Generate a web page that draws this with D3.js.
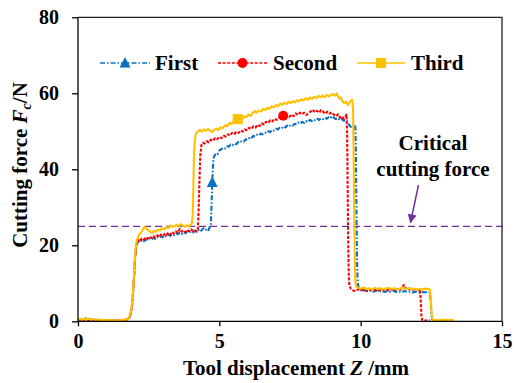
<!DOCTYPE html>
<html>
<head>
<meta charset="utf-8">
<script src="https://cdn.jsdelivr.net/npm/d3@7"></script>
<style>
  html, body { margin: 0; padding: 0; background: #fff; }
  svg { display: block; }
  text { font-family: "Liberation Serif", "Times New Roman", serif; font-weight: bold; fill: #000; }
</style>
</head>
<body>
<svg id="chart" width="514" height="383"></svg>
<script>
// Tool displacement Z (mm) and cutting force Fc (N) for the three cutting passes
const firstZ = [0.0,0.1,0.2,0.3,0.4,0.5,0.7,0.9,1.1,1.3,1.5,1.65,1.75,1.82,1.88,1.93,1.98,2.02,2.06,2.1,2.15,2.2,2.27,2.33,2.4,2.47,2.53,2.6,2.67,2.73,2.8,2.87,2.93,3.0,3.07,3.13,3.2,3.27,3.33,3.4,3.47,3.53,3.6,3.67,3.73,3.8,3.87,3.93,4.0,4.07,4.13,4.2,4.27,4.33,4.4,4.47,4.53,4.6,4.66,4.7,4.72,4.74,4.75,4.77,4.79,4.83,4.88,4.94,5.0,5.07,5.13,5.2,5.27,5.33,5.4,5.47,5.53,5.6,5.67,5.73,5.8,5.87,5.93,6.0,6.07,6.13,6.2,6.27,6.33,6.4,6.47,6.53,6.6,6.67,6.73,6.8,6.87,6.93,7.0,7.07,7.13,7.2,7.27,7.33,7.4,7.47,7.53,7.6,7.67,7.73,7.8,7.87,7.93,8.0,8.07,8.13,8.2,8.27,8.33,8.4,8.47,8.53,8.6,8.67,8.73,8.8,8.87,8.93,8.98,9.05,9.12,9.2,9.27,9.33,9.4,9.47,9.53,9.58,9.63,9.68,9.73,9.78,9.81,9.83,9.85,9.87,9.89,9.92,9.97,10.05,10.15,10.25,10.35,10.45,10.55,10.65,10.75,10.85,10.95,11.05,11.15,11.25,11.35,11.45,11.55,11.65,11.75,11.85,11.95,12.05,12.15,12.25,12.35,12.45,12.48,12.5,12.53,12.6,12.8];
const firstF = [0.4,0.5,0.6,0.9,0.6,0.5,0.4,0.3,0.2,0.3,0.2,0.3,0.5,1.0,2.4,5.2,11,16.5,19.6,20.6,21.0,20.8,21.4,21.1,21.6,21.3,21.8,21.5,22.0,21.7,22.2,21.9,22.4,22.1,22.6,22.3,22.8,22.5,23.0,22.7,23.2,22.9,23.4,23.0,23.5,23.2,23.6,23.3,23.7,23.4,23.8,23.5,24.0,23.6,24.2,24.6,24.1,23.7,24.8,25.2,30,34,36.5,40,42.8,43.6,44.2,44.0,44.9,45.3,45.7,45.5,46.1,45.9,46.5,46.3,46.8,46.6,47.2,47.0,47.5,47.3,47.9,47.7,48.3,48.1,48.8,48.6,49.1,48.9,49.4,49.2,49.7,49.5,50.0,49.8,50.4,50.2,50.7,50.5,50.9,50.7,51.3,51.0,51.5,51.2,51.7,51.5,52.0,51.8,52.3,52.0,52.5,52.2,52.7,52.4,53.0,52.7,53.1,52.8,53.3,53.0,53.5,53.2,53.6,53.3,53.7,53.4,54.0,53.6,53.2,53.5,52.9,53.2,52.8,53.1,52.5,51.8,51.3,51.0,51.5,51.8,51.2,45,30,17,11,9.0,8.4,8.0,8.2,7.9,8.1,7.8,8.1,7.8,8.0,7.7,8.0,7.8,8.1,7.7,7.9,7.6,8.0,7.7,7.9,7.6,7.8,7.5,7.8,7.6,7.8,7.6,5,2,0.5,0.3,0.2];

const secondZ = [0.0,0.1,0.2,0.35,0.5,0.7,0.9,1.1,1.3,1.5,1.65,1.75,1.82,1.88,1.93,1.98,2.02,2.06,2.1,2.15,2.2,2.27,2.33,2.4,2.47,2.53,2.6,2.67,2.73,2.8,2.87,2.93,3.0,3.07,3.13,3.2,3.27,3.33,3.4,3.47,3.53,3.6,3.67,3.73,3.8,3.87,3.93,4.0,4.07,4.13,4.2,4.24,4.27,4.3,4.33,4.37,4.42,4.48,4.55,4.62,4.7,4.77,4.85,4.92,5.0,5.08,5.15,5.23,5.3,5.38,5.45,5.53,5.6,5.68,5.75,5.83,5.9,5.98,6.05,6.13,6.2,6.28,6.35,6.43,6.5,6.58,6.65,6.73,6.8,6.88,6.95,7.03,7.1,7.18,7.26,7.33,7.4,7.48,7.55,7.63,7.7,7.78,7.85,7.93,8.0,8.08,8.15,8.23,8.3,8.38,8.45,8.53,8.6,8.68,8.75,8.83,8.9,8.98,9.05,9.13,9.2,9.27,9.33,9.4,9.46,9.5,9.52,9.54,9.56,9.58,9.6,9.65,9.7,9.8,9.9,10.0,10.1,10.2,10.3,10.4,10.5,10.6,10.7,10.8,10.9,11.0,11.1,11.2,11.3,11.4,11.48,11.53,11.58,11.65,11.75,11.85,11.95,12.05,12.1,12.13,12.15,12.18,12.3,12.45];
const secondF = [0.3,0.5,0.3,0.4,0.3,0.3,0.2,0.3,0.2,0.3,0.4,0.5,1.0,2.5,5.5,11.5,17,20.0,21.0,21.6,21.3,21.9,21.5,22.1,21.8,22.3,21.9,22.4,22.0,22.6,22.2,22.8,22.4,23.0,22.7,23.3,22.8,23.5,23.1,23.7,23.3,24.3,23.6,23.9,23.5,24.1,23.7,24.2,23.8,24.0,23.6,24.0,30,38,44,46.5,47.0,46.8,47.4,47.1,47.8,47.5,48.2,47.9,48.5,48.2,48.8,48.6,49.2,48.9,49.6,49.3,49.9,49.6,50.2,49.9,50.5,50.3,50.9,50.6,51.3,51.0,51.7,51.4,52.1,51.8,52.5,52.2,52.9,52.6,53.3,53.0,53.6,53.4,54.1,53.7,54.2,53.8,54.4,54.0,54.7,54.3,54.9,54.5,54.9,54.3,54.8,55.2,55.7,55.0,55.4,54.9,55.6,55.1,54.6,55.2,54.7,55.0,54.4,54.0,54.5,53.6,53.9,53.3,53.8,54.4,50,35,20,12,9.3,8.6,8.2,8.0,8.4,8.1,8.3,8.0,8.4,8.1,8.3,8.0,8.4,8.2,8.5,8.1,8.4,8.2,8.5,8.3,9.0,9.6,8.8,8.4,8.6,8.3,8.5,8.2,8.4,5,1.5,0.3,0.2,0.3];

const thirdZ = [0.0,0.1,0.2,0.3,0.4,0.5,0.7,0.9,1.1,1.3,1.5,1.65,1.75,1.82,1.88,1.93,1.98,2.02,2.06,2.1,2.15,2.2,2.27,2.33,2.38,2.43,2.5,2.56,2.62,2.68,2.75,2.82,2.9,2.97,3.05,3.12,3.2,3.27,3.35,3.42,3.5,3.57,3.63,3.7,3.77,3.85,3.92,3.98,4.03,4.06,4.08,4.1,4.13,4.17,4.22,4.3,4.38,4.45,4.52,4.6,4.68,4.75,4.82,4.9,4.97,5.05,5.12,5.2,5.28,5.35,5.42,5.5,5.58,5.65,5.72,5.8,5.88,5.95,6.03,6.1,6.18,6.25,6.33,6.4,6.48,6.55,6.63,6.7,6.78,6.85,6.93,7.0,7.08,7.15,7.23,7.3,7.38,7.45,7.53,7.6,7.68,7.75,7.83,7.9,7.98,8.05,8.13,8.2,8.28,8.35,8.43,8.5,8.58,8.65,8.73,8.8,8.88,8.95,9.03,9.1,9.15,9.2,9.25,9.3,9.35,9.42,9.48,9.55,9.6,9.65,9.7,9.73,9.75,9.77,9.79,9.81,9.84,9.9,10.0,10.1,10.2,10.3,10.4,10.5,10.6,10.7,10.8,10.9,11.0,11.1,11.2,11.3,11.4,11.5,11.6,11.7,11.8,11.9,12.0,12.1,12.2,12.3,12.4,12.45,12.48,12.5,12.52,12.56,12.7,12.9,13.1,13.3];
const thirdF = [0.5,0.6,0.5,0.7,0.6,0.5,0.4,0.3,0.3,0.2,0.3,0.4,0.6,1.2,2.8,6.0,12.0,17.5,20.5,21.8,22.6,23.1,23.8,24.6,24.9,24.2,23.9,23.5,23.2,23.8,23.6,24.1,23.9,24.5,24.2,24.8,24.5,25.2,24.9,25.1,25.4,25.0,25.6,25.2,24.9,25.3,24.9,25.4,25.8,28,35,43,47.5,49.3,49.8,50.3,49.9,50.5,50.1,50.6,50.2,49.8,50.4,50.7,50.3,51.1,50.8,51.6,51.3,52.2,51.9,52.6,52.9,53.2,53.5,53.1,53.9,53.7,54.4,54.1,54.8,55.3,54.9,55.5,55.2,55.9,55.6,56.2,55.9,56.6,56.3,56.9,56.6,57.3,57.0,57.5,57.2,57.8,57.4,57.9,57.6,58.2,57.9,58.5,58.1,58.7,58.3,58.9,58.5,59.1,58.7,59.3,58.9,59.4,59.0,59.6,59.2,59.5,59.8,59.4,60.0,59.2,58.6,58.9,57.9,57.4,57.8,56.9,57.5,58.0,58.3,56,45,30,18,11,9.2,8.8,8.6,8.9,8.5,8.7,8.4,8.8,8.5,8.7,8.4,8.6,8.8,8.5,8.7,8.4,8.6,8.9,8.5,8.7,8.4,8.6,8.3,8.5,8.4,8.6,8.5,8.3,6,3,1,0.4,0.3,0.4,0.3,0.3];

// Displacement at which each pass carries its marker symbol
const markerZ = [4.75, 7.26, 5.65];

const seriesNames = ["First", "Second", "Third"];
const criticalForce = 25;

const xTicks = [0, 5, 10, 15];
const yTicks = [0, 20, 40, 60, 80];

const svg = d3.select("#chart");
const x = d3.scaleLinear().domain([0, 15]).range([78, 502]);
const y = d3.scaleLinear().domain([0, 80]).range([321.3, 17.3]);

const styles = [
  { color: "#0A70C2", dash: "5,2,1.5,2", symbol: "triangle" },
  { color: "#FF0000", dash: "3,1.6", symbol: "circle" },
  { color: "#FFC000", dash: null, symbol: "square" }
];

const series = [
  { name: seriesNames[0], z: firstZ, f: firstF, mz: markerZ[0], style: styles[0] },
  { name: seriesNames[1], z: secondZ, f: secondF, mz: markerZ[1], style: styles[1] },
  { name: seriesNames[2], z: thirdZ, f: thirdF, mz: markerZ[2], style: styles[2] }
];

function symbolPath(type, cx, cy) {
  if (type === "triangle") return `M${cx},${cy - 6}L${cx + 5.5},${cy + 4.5}L${cx - 5.5},${cy + 4.5}Z`;
  if (type === "square") return `M${cx - 5},${cy - 5}h10v10h-10Z`;
  return `M${cx - 5},${cy}a5,5 0 1,0 10,0a5,5 0 1,0 -10,0Z`;
}

// Critical cutting force reference line
svg.append("line")
  .attr("x1", x(0)).attr("x2", 504)
  .attr("y1", y(criticalForce)).attr("y2", y(criticalForce))
  .attr("stroke", "#7030A0").attr("stroke-width", 1.3)
  .attr("stroke-dasharray", "7,4");

// Force curves
const line = d3.line().x(d => x(d[0])).y(d => y(d[1]));
series.forEach(s => {
  const pts = s.z.map((z, i) => [z, s.f[i]]);
  svg.append("path")
    .attr("d", line(pts))
    .attr("fill", "none")
    .attr("stroke", s.style.color)
    .attr("stroke-width", 2.1)
    .attr("stroke-linejoin", "round")
    .attr("stroke-dasharray", s.style.dash);
  const mi = s.z.indexOf(s.mz);
  svg.append("path")
    .attr("d", symbolPath(s.style.symbol, x(s.z[mi]), y(s.f[mi])))
    .attr("fill", s.style.color);
});

// Axes
const xAxis = svg.append("g")
  .attr("transform", `translate(0,${y(0)})`)
  .call(d3.axisBottom(x).tickValues(xTicks).tickSize(5).tickPadding(8).tickFormat(d3.format("d")));
const yAxis = svg.append("g")
  .attr("transform", `translate(${x(0)},0)`)
  .call(d3.axisLeft(y).tickValues(yTicks).tickSize(6).tickPadding(13).tickFormat(d3.format("d")));
[xAxis, yAxis].forEach(g => {
  g.select(".domain").attr("stroke", "#000").attr("stroke-width", 1.3);
  g.selectAll(".tick line").attr("stroke", "#000").attr("stroke-width", 1.3);
  g.selectAll(".tick text")
    .attr("font-family", "Liberation Serif, Times New Roman, serif")
    .attr("font-weight", "bold").attr("font-size", 20).attr("fill", "#000");
});
xAxis.select(".domain").attr("d", `M${x(0)},0H${x(15)}`);
yAxis.select(".domain").attr("d", `M0,${y(0)}V${y(80)}`);

// Frame: top and right borders
svg.append("path")
  .attr("d", `M${x(0)},${y(80)}H${x(15)}V${y(0)}`)
  .attr("fill", "none").attr("stroke", "#222").attr("stroke-width", 1.3);

// Axis titles
svg.append("text")
  .attr("x", 296).attr("y", 375)
  .attr("text-anchor", "middle").attr("font-size", 21)
  .call(t => {
    t.append("tspan").text("Tool displacement ");
    t.append("tspan").attr("font-style", "italic").text("Z");
    t.append("tspan").text(" /mm");
  });

svg.append("text")
  .attr("transform", "translate(27,165) rotate(-90)")
  .attr("text-anchor", "middle").attr("font-size", 21)
  .call(t => {
    t.append("tspan").text("Cutting force ");
    t.append("tspan").attr("font-style", "italic").text("F");
    t.append("tspan").attr("font-style", "italic").attr("font-size", 14).attr("dy", 4).text("c");
    t.append("tspan").attr("dy", -4).text("/N");
  });

// Legend
const legendLayout = [
  { x1: 100, x2: 150, tx: 155 },
  { x1: 218, x2: 267, tx: 273 },
  { x1: 357, x2: 405, tx: 411 }
];
const legendY = 63;
series.forEach((s, i) => {
  const L = legendLayout[i];
  svg.append("line")
    .attr("x1", L.x1).attr("x2", L.x2).attr("y1", legendY).attr("y2", legendY)
    .attr("stroke", s.style.color).attr("stroke-width", 1.5)
    .attr("stroke-dasharray", s.style.dash);
  svg.append("path")
    .attr("d", symbolPath(s.style.symbol, (L.x1 + L.x2) / 2, legendY))
    .attr("fill", s.style.color);
  svg.append("text")
    .attr("x", L.tx).attr("y", 70).attr("font-size", 21)
    .text(s.name);
});

// Critical cutting force annotation
svg.append("text").attr("x", 433).attr("y", 150)
  .attr("text-anchor", "middle").attr("font-size", 21).text("Critical");
svg.append("text").attr("x", 433).attr("y", 176)
  .attr("text-anchor", "middle").attr("font-size", 21).text("cutting force");

svg.append("defs").append("marker")
  .attr("id", "arrowhead").attr("viewBox", "0 0 10 10")
  .attr("refX", 9).attr("refY", 5)
  .attr("markerWidth", 10).attr("markerHeight", 9)
  .attr("markerUnits", "userSpaceOnUse")
  .attr("orient", "auto")
  .append("path").attr("d", "M0,0L10,5L0,10Z").attr("fill", "#7030A0");
svg.append("line")
  .attr("x1", 418.5).attr("y1", 185).attr("x2", 410.5).attr("y2", 222.5)
  .attr("stroke", "#7030A0").attr("stroke-width", 1.5)
  .attr("marker-end", "url(#arrowhead)");
</script>
</body>
</html>
